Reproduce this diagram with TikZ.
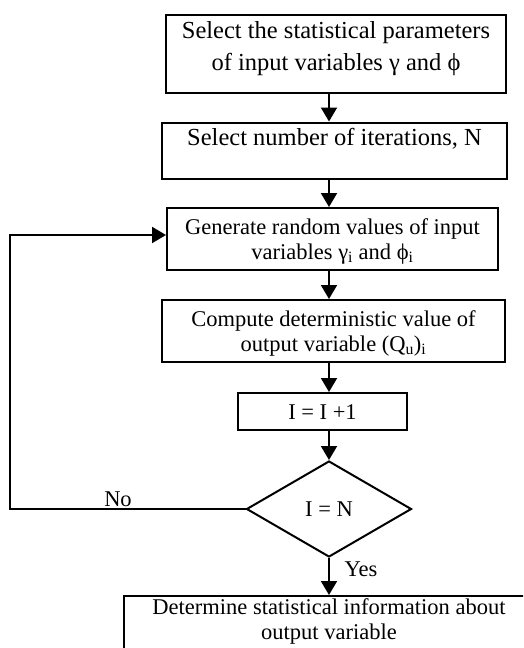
\documentclass[tikz,border=0pt]{standalone}
\usepackage{fontspec}
\setmainfont{Liberation Serif}
\usetikzlibrary{arrows.meta,shapes.geometric}
\def\boxlines#1#2{\begin{tabular}{@{}c@{}}#2\\[#1]\end{tabular}}
\tikzset{
	stepbox/.style={draw, line width=2pt, inner sep=0pt},
	bigtext/.style={font=\fontsize{24.5}{32}\selectfont},
	smalltext/.style={font=\fontsize{22.5}{25}\selectfont},
	flow/.style={line width=2pt, -{Triangle[width=16pt,length=14pt]}}
}

\begin{document}
\begin{tikzpicture}[x=1pt, y=-1pt]
			%%%%% START %%%%%
			\useasboundingbox (0, 0) rectangle (523, 648);
			\clip (0, 0) rectangle (523, 648);
			
			\node[stepbox, bigtext, minimum width=340, minimum height=78] (params) at (336, 54)
				{\boxlines{11pt}{Select the statistical parameters\\of input variables γ and ϕ}};
			\node[stepbox, bigtext, minimum width=345, minimum height=56] (iter) at (334.5, 150.5)
				{\boxlines{22pt}{Select number of iterations, N}};
			
			\node[stepbox, smalltext, minimum width=331, minimum height=62] (gen) at (332.5, 239)
				{\boxlines{-6pt}{Generate random values of input\\variables γ\textsubscript{i} and ϕ\textsubscript{i}}};
			\node[stepbox, smalltext, minimum width=343, minimum height=62] (comp) at (333.5, 331)
				{\boxlines{-6pt}{Compute deterministic value of\\output variable (Q\textsubscript{u})\textsubscript{i}}};
			\node[stepbox, smalltext, minimum width=169, minimum height=37] (inc) at (322.5, 411.5)
				{\boxlines{-6pt}{I = I +1}};
			
			\node[diamond, draw, line width=2pt, smalltext, inner sep=0pt, minimum width=165, minimum height=96] (check) at (329, 509) {I = N};
			
			\node[stepbox, smalltext, minimum width=410, minimum height=60] (result) at (329, 626)
				{\boxlines{8pt}{Determine statistical information about\\output variable}};
			
			\draw[flow] (params.south -| check.north) -- (iter.north -| check.north);
			\draw[flow] (iter.south -| check.north) -- (gen.north -| check.north);
			\draw[flow] (gen.south -| check.north) -- (comp.north -| check.north);
			\draw[flow] (comp.south -| check.north) -- (inc.north -| check.north);
			\draw[flow] (inc.south -| check.north) -- (check.north);
			\draw[flow] (check.south) -- (result.north);
			
			\coordinate (back) at (10, 509);
			\draw[flow] (check.west) -- (back) |- ([yshift=4pt]gen.west);
			
			\node[smalltext] (no) at (118, 499) {No};
			\node[smalltext] (yes) at (361, 569) {Yes};
			
			%%%%% END %%%%%
		\end{tikzpicture}
\end{document}
